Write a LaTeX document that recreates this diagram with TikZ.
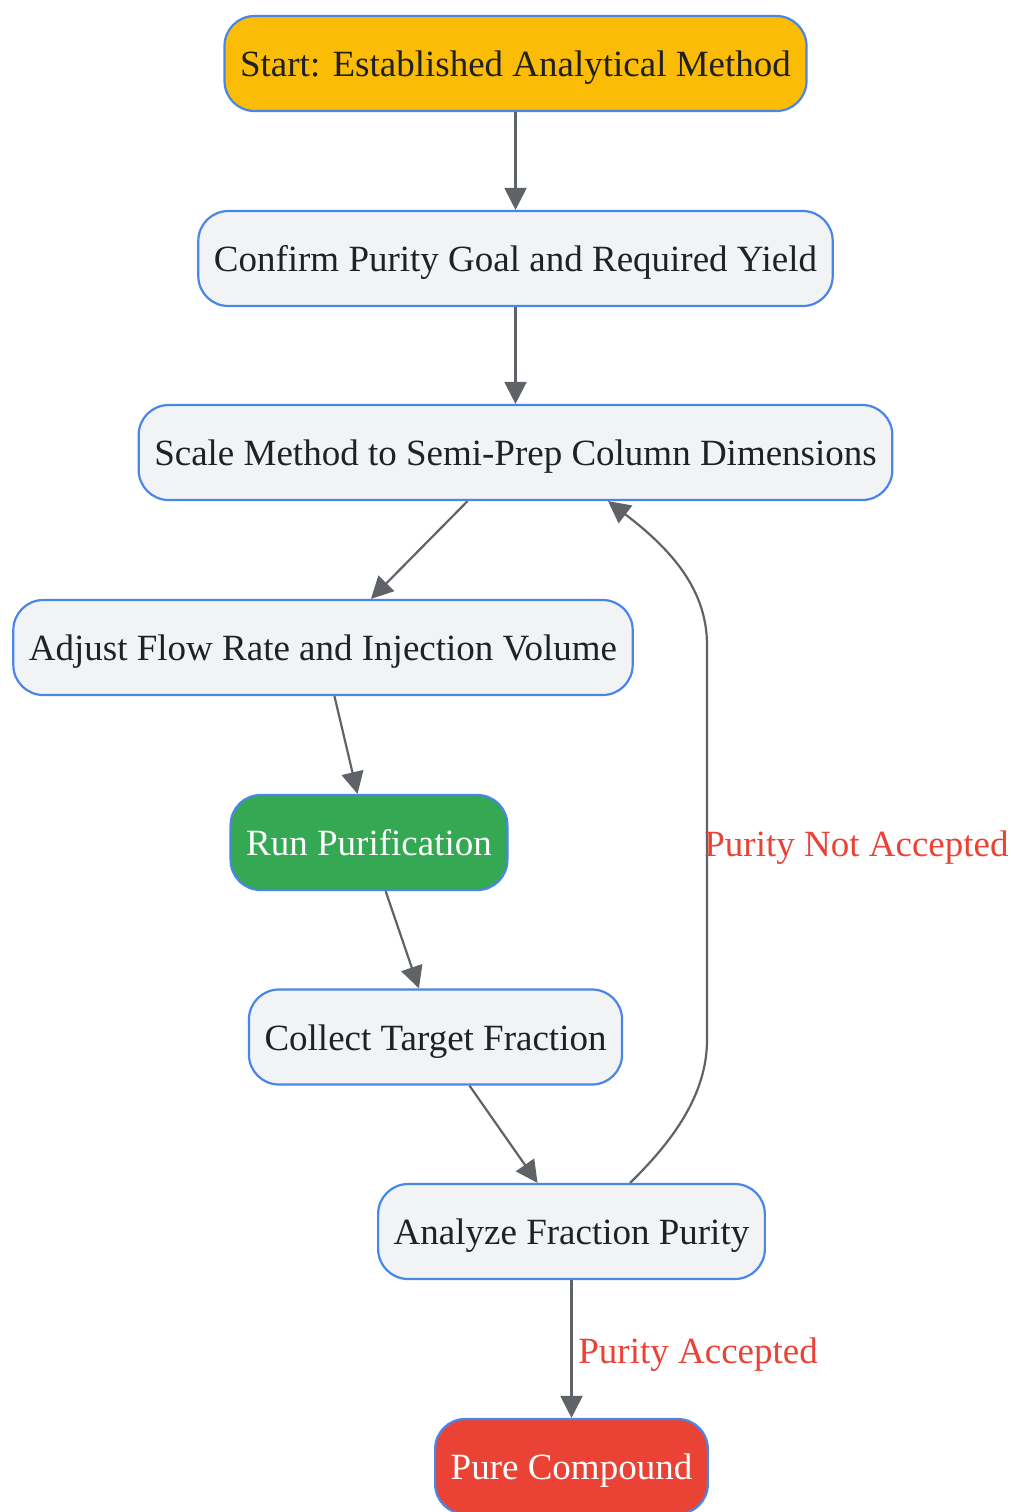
\documentclass[tikz,border=0pt]{standalone}
\usepackage{fontspec}
\setmainfont{Liberation Serif}
\usetikzlibrary{arrows.meta}
\definecolor{edgeblue}{HTML}{4A86E8}
\definecolor{boxgray}{HTML}{F1F3F4}
\definecolor{inkdark}{HTML}{202124}
\definecolor{linegray}{HTML}{5F6368}
\definecolor{startyellow}{HTML}{FABC05}
\definecolor{rungreen}{HTML}{34A853}
\definecolor{endred}{HTML}{EA4335}
\tikzset{
  stepbox/.style={draw=edgeblue, line width=1.1pt, fill=boxgray, text=inkdark,
    rounded corners=15pt, minimum height=47.5pt, inner xsep=7.8pt,
    text height=17pt, text depth=4pt,
    font=\fontsize{18.5}{22}\selectfont},
  flow/.style={draw=linegray, line width=1.1pt, -{Triangle[length=11pt,width=11pt]}},
  choice/.style={text=endred, inner sep=0pt, anchor=west,
    text height=17pt, text depth=4pt,
    font=\fontsize{18.5}{22}\selectfont}
}
\begin{document}
\begin{tikzpicture}[x=0.5pt, y=-0.5pt]
		%%%%% START %%%%%
		\useasboundingbox (0,0) rectangle (1011,1512);
		
		\node[stepbox, fill=startyellow] (Start) at (515.5,63.5) {Start: Established Analytical Method};
		\node[stepbox] (Confirm) at (515.5,258.5) {Confirm Purity Goal and Required Yield};
		\node[stepbox] (Scale) at (515.5,452.5) {Scale Method to Semi-Prep Column Dimensions};
		\node[stepbox] (Adjust) at (323,647.5) {Adjust Flow Rate and Injection Volume};
		\node[stepbox, fill=rungreen, text=white] (Run) at (369,842.5) {Run Purification};
		\node[stepbox] (Collect) at (435.5,1037) {Collect Target Fraction};
		\node[stepbox] (Analyze) at (571.5,1231.5) {Analyze Fraction Purity};
		\node[stepbox, fill=endred, text=white] (Pure) at (571.5,1466.5) {Pure Compound};
		
		\draw[flow] (Start) -- (Confirm);
		\draw[flow] (Confirm) -- (Scale);
		\draw[flow] (Scale) -- (Adjust);
		\draw[flow] (Adjust) -- (Run);
		\draw[flow] (Run) -- (Collect);
		\draw[flow] (Collect) -- (Analyze);
		\draw[flow] (Analyze) -- (Pure);
		
		% loop back on rejection
		\coordinate (loopLow) at (707,1040);
		\coordinate (loopHigh) at (707,645);
		\draw[flow] ([xshift=29.25pt]Analyze.north) .. controls (672,1142) and (707,1095) .. (loopLow)
			-- (loopHigh) .. controls (707,590) and (672,550) .. ([xshift=46.25pt]Scale.south);
		
		\node[choice] (notAccepted) at (704,843) {Purity Not Accepted};
		\node[choice] (accepted) at (578,1350) {Purity Accepted};
		
		%%%%% END %%%%%
	\end{tikzpicture}
\end{document}
